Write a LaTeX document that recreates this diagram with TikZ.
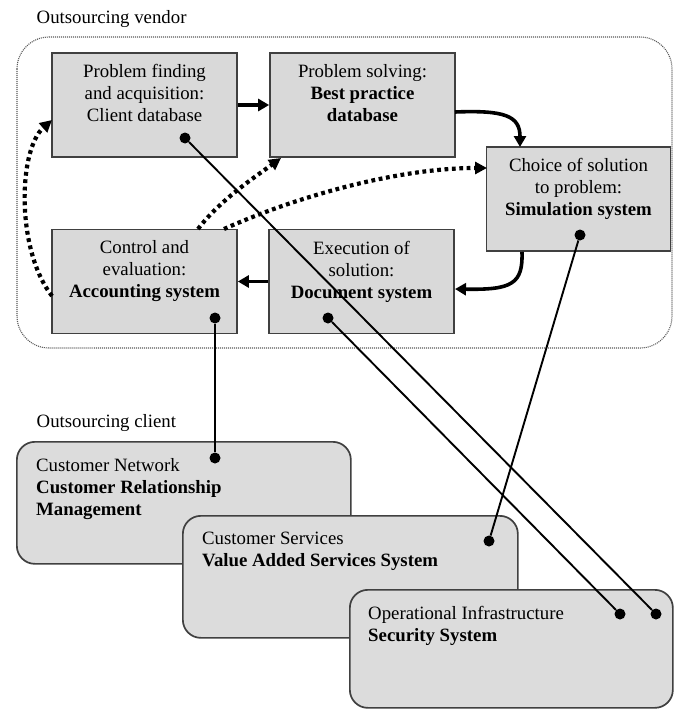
\documentclass[tikz,border=0pt]{standalone}
\usepackage{fontspec}
\setmainfont{Liberation Serif}
\usetikzlibrary{arrows.meta}
\definecolor{boxfill}{HTML}{D9D9D9}
\definecolor{clientfill}{HTML}{DCDCDC}
\definecolor{boxline}{HTML}{404040}
\begin{document}
\begin{tikzpicture}[x=1pt,y=-1pt,
  every node/.style={font=\fontsize{18.8}{22}\selectfont},
  stagebox/.style={draw=boxline,line width=1.7pt,fill=boxfill,minimum width=185pt,minimum height=104pt,inner sep=0pt},
  stagetext/.style={anchor=north,align=center,inner sep=0pt},
  clientbox/.style={draw=boxline,line width=1.7pt,fill=clientfill,rounded corners=18pt,anchor=north west,inner sep=0pt},
  clienttext/.style={anchor=north west,align=left,inner sep=0pt},
  flow/.style={line width=3.6pt,-{Triangle[length=11pt,width=12pt]}},
  feedback/.style={line width=4.2pt,dash pattern=on 3.8pt off 3.6pt,-{Triangle[length=12pt,width=12pt]}},
  link/.style={line width=1.9pt},
  dot/.style={circle,fill=black,inner sep=0pt,minimum size=11pt},
  heading/.style={anchor=base west,inner sep=0pt}]
\useasboundingbox (0,0) rectangle (674,709);
\fill[white] (0,0) rectangle (674,709);

% vendor area
\node[heading] (vendor) at (36.5,24) {Outsourcing vendor};
\draw[black!65,line width=1.1pt,dash pattern=on 1pt off 1pt,rounded corners=32pt] (17,37) rectangle (672,348);

% process stages
\node[stagebox] (b1) at (144.5,105) {};
\node[stagebox] (b2) at (362.5,105) {};
\node[stagebox,minimum width=184pt] (b3) at (578.5,199) {};
\node[stagebox] (b4) at (144.5,281.5) {};
\node[stagebox] (b5) at (361.5,281.5) {};

\node[stagetext] (t1) at ([yshift=-12pt]b1.north) {Problem finding\\and acquisition:\\Client database};
\node[stagetext] (t2) at ([yshift=-12pt]b2.north) {Problem solving:\\\textbf{Best practice}\\\textbf{database}};
\node[stagetext] (t3) at ([yshift=-12pt]b3.north) {Choice of solution\\to problem:\\\textbf{Simulation system}};
\node[stagetext] (t4) at ([yshift=-12pt]b4.north) {Control and\\evaluation:\\\textbf{Accounting system}};
\node[stagetext] (t5) at ([yshift=-12pt]b5.north) {Execution of\\solution:\\\textbf{Document system}};

% main cycle
\coordinate (b2out) at (455,112);
\coordinate (b3in) at (520,147);
\coordinate (b3out) at (522,252);
\coordinate (b5in) at (455,289);
\draw[flow] (b1.east) -- (b2.west);
\draw[flow] (b2out) .. controls (505,110) and (520,116) .. (b3in);
\draw[flow] (b3out) .. controls (523,284) and (512,290) .. (b5in);
\draw[flow] (b5.west) -- (b4.east);

% feedback from control and evaluation
\coordinate (f1s) at (52,296);
\coordinate (f1e) at (52,120);
\coordinate (f2s) at (198,229);
\coordinate (f2e) at (281,158);
\coordinate (f3s) at (224,229);
\coordinate (f3e) at (487,168);
\draw[feedback] (f1s) .. controls (16,250) and (18,150) .. (f1e);
\draw[feedback] (f2s) .. controls (220,200) and (255,177) .. (f2e);
\draw[feedback] (f3s) .. controls (300,195) and (400,168) .. (f3e);

% client area
\node[heading] (client) at (36.5,427) {Outsourcing client};
\node[clientbox,minimum width=334pt,minimum height=122pt] (c1) at (16,441) {};
\node[clienttext] (ct1) at ([xshift=20pt,yshift=-17pt]c1.north west) {Customer Network\\\textbf{Customer Relationship}\\\textbf{Management}};
\node[clientbox,minimum width=335pt,minimum height=122pt] (c2) at (182,515) {};
\node[clienttext] (ct2) at ([xshift=20pt,yshift=-17pt]c2.north west) {Customer Services\\\textbf{Value Added Services System}};
\node[clientbox,minimum width=323pt,minimum height=118pt] (c3) at (349,589) {};
\node[clienttext] (ct3) at ([xshift=19pt,yshift=-17pt]c3.north west) {Operational Infrastructure\\\textbf{Security System}};

% system links
\node[dot] (d1) at (185,138) {};
\node[dot] (d3) at (580,235) {};
\node[dot] (d4) at (215,318) {};
\node[dot] (d5) at (328,318) {};
\node[dot] (e1) at (215,458) {};
\node[dot] (e2) at (489,541) {};
\node[dot] (e3) at (620,614) {};
\node[dot] (e4) at (656,614) {};
\draw[link] (d1) -- (e4);
\draw[link] (d3) -- (e2);
\draw[link] (d4) -- (e1);
\draw[link] (d5) -- (e3);
\end{tikzpicture}
\end{document}
